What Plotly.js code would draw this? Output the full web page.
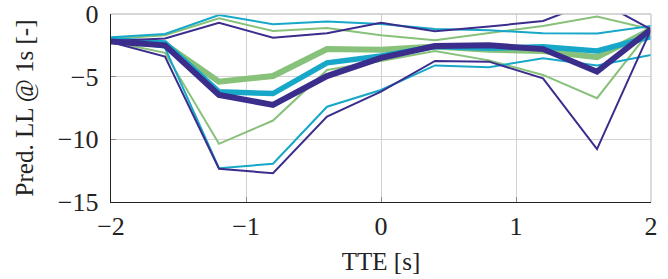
<!DOCTYPE html>
<html>
<head>
<meta charset="utf-8">
<script src="https://cdn.plot.ly/plotly-3.0.1.min.js"></script>
<style>html,body{margin:0;padding:0;background:#fff;}#chart{width:668px;height:279px;}</style>
</head>
<body>
<div id="chart"></div>
<script>
const tte = [-2, -1.6, -1.2, -0.8, -0.4, 0, 0.4, 0.8, 1.2, 1.6, 2];

const greenMean = [-2.1, -2.4, -5.4, -4.95, -2.8, -2.85, -2.6, -2.85, -2.95, -3.45, -1.25];
const greenHi   = [-2.0, -1.7, -0.35, -1.35, -1.12, -1.7, -2.1, -1.5, -0.95, -0.21, -1.22];
const greenLo   = [-2.2, -3.1, -10.36, -8.5, -4.46, -3.75, -2.95, -3.7, -4.86, -6.72, -1.22];

const cyanMean = [-2.05, -2.3, -6.2, -6.35, -3.9, -3.35, -2.6, -2.74, -2.62, -2.95, -1.8];
const cyanHi   = [-1.85, -1.6, -0.08, -0.82, -0.6, -0.8, -1.2, -1.3, -1.54, -1.56, -0.96];
const cyanLo   = [-2.1, -2.7, -12.3, -11.95, -7.4, -6.06, -4.1, -4.25, -3.53, -4.1, -3.27];

const darkMean = [-2.2, -2.5, -6.45, -7.25, -4.95, -3.5, -2.55, -2.5, -2.8, -4.6, -1.22];
const darkHi   = [-2.15, -1.95, -0.7, -1.9, -1.54, -0.69, -1.37, -1.0, -0.56, 1.1, -1.22];
const darkLo   = [-2.25, -3.4, -12.35, -12.7, -8.18, -6.2, -3.75, -3.8, -5.13, -10.78, -1.22];

const xTicks = [-2, -1, 0, 1, 2];
const yTicks = [-15, -10, -5, 0];

const GREEN = '#88c17a', CYAN = '#17a8c9', DARK = '#3a2d8c';

function tr(y, color, width) {
  return {x: tte, y: y, type: 'scatter', mode: 'lines',
          line: {color: color, width: width}, showlegend: false, hoverinfo: 'skip'};
}

const data = [
  tr(greenHi, GREEN, 2), tr(greenLo, GREEN, 2), tr(greenMean, GREEN, 6),
  tr(cyanHi, CYAN, 2), tr(cyanLo, CYAN, 2), tr(cyanMean, CYAN, 5.5),
  tr(darkHi, DARK, 2), tr(darkLo, DARK, 2), tr(darkMean, DARK, 6)
];

const FAM = 'Liberation Serif';
const tickFont = {family: FAM, size: 26, color: '#222'};
const titleFont = {family: FAM, size: 25, color: '#222'};
const minusLabel = v => v < 0 ? '\u2212' + Math.abs(v) : String(v);

const layout = {
  width: 668, height: 279,
  margin: {l: 111, r: 17, t: 14, b: 77, pad: 0},
  paper_bgcolor: '#fff', plot_bgcolor: '#fff',
  font: {family: FAM, size: 24, color: '#222'},
  showlegend: false,
  xaxis: {
    range: [-2, 2], tickvals: xTicks, ticktext: xTicks.map(minusLabel),
    showgrid: true, gridcolor: '#d2d2d2', gridwidth: 1,
    zeroline: false, showline: true, linecolor: '#222', linewidth: 1.3,
    ticks: 'inside', ticklen: 5, tickcolor: '#888', tickwidth: 1,
    tickfont: tickFont,
    title: {text: 'TTE [s]', font: titleFont, standoff: 13},
    automargin: false
  },
  yaxis: {
    range: [-15, 0], tickvals: yTicks, ticktext: yTicks.map(minusLabel),
    showgrid: true, gridcolor: '#d2d2d2', gridwidth: 1,
    zeroline: false, showline: true, linecolor: '#222', linewidth: 1.3,
    ticks: 'inside', ticklen: 5, tickcolor: '#888', tickwidth: 1,
    ticklabelstandoff: 6,
    tickfont: tickFont,
    title: {text: 'Pred. LL @ 1s [-]', font: titleFont, standoff: 17},
    automargin: false
  },
  shapes: [
    {type: 'line', xref: 'paper', yref: 'paper', x0: 0, x1: 1, y0: 1, y1: 1, line: {color: '#c8c8c8', width: 1.3}},
    {type: 'line', xref: 'paper', yref: 'paper', x0: 1, x1: 1, y0: 0, y1: 1, line: {color: '#c8c8c8', width: 1.3}}
  ]
};

Plotly.newPlot('chart', data, layout, {staticPlot: true, displayModeBar: false});
</script>
</body>
</html>
